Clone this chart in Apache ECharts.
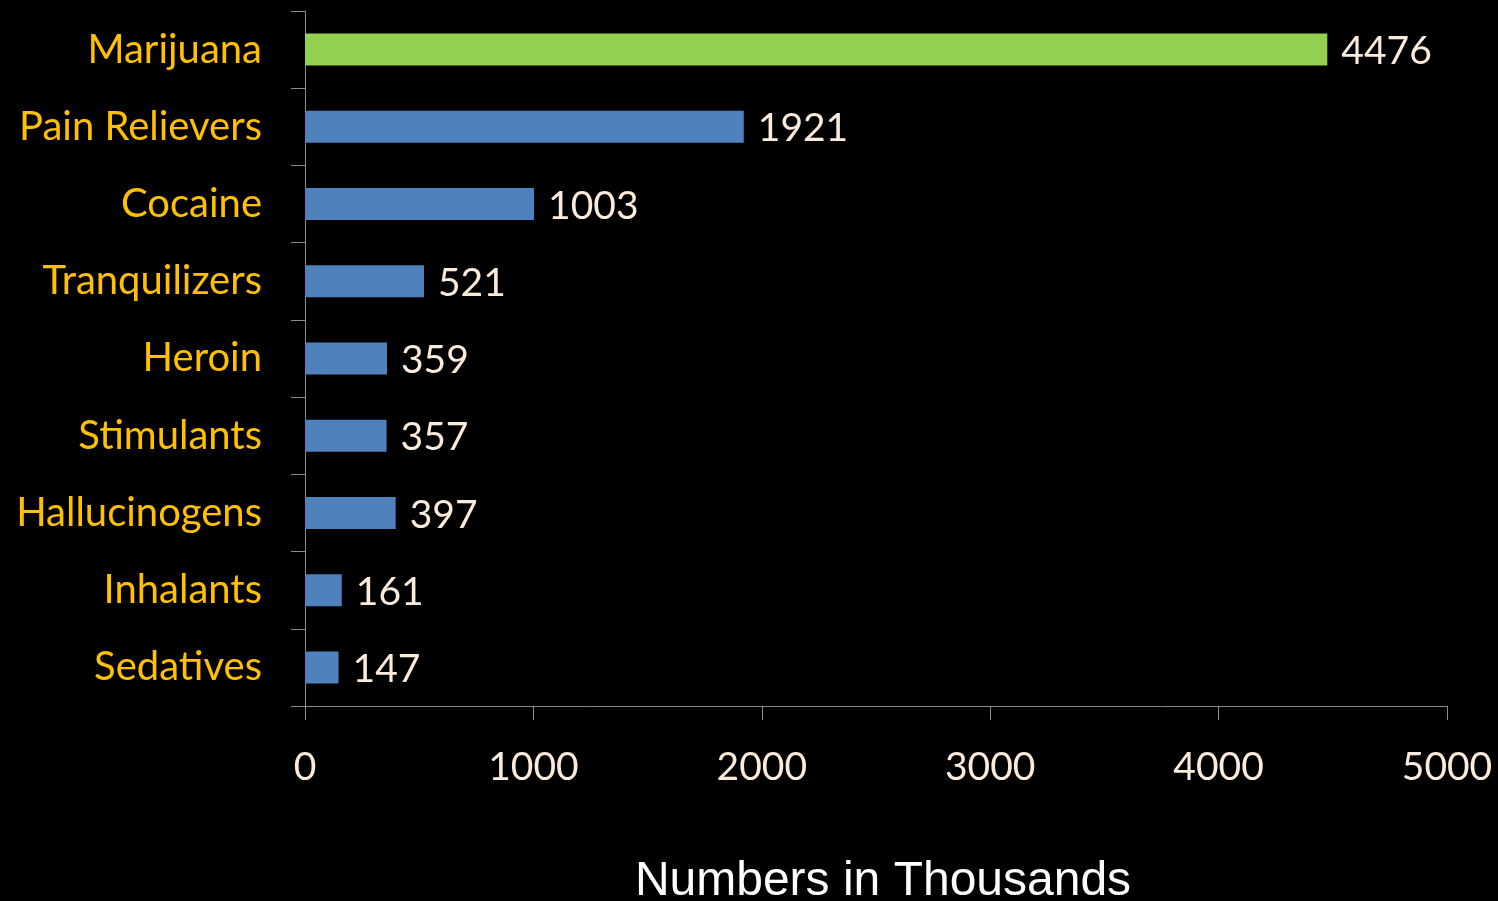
<!DOCTYPE html>
<html>
<head>
<meta charset="utf-8">
<script src="https://cdn.jsdelivr.net/npm/echarts@6/dist/echarts.min.js"></script>
<style>
  html, body { margin: 0; padding: 0; background: #000; }
  #chart { width: 1498px; height: 901px; }
</style>
</head>
<body>
<div id="chart"></div>
<script>
// Drug categories, listed top to bottom
const categories = ['Marijuana', 'Pain Relievers', 'Cocaine', 'Tranquilizers', 'Heroin',
  'Stimulants', 'Hallucinogens', 'Inhalants', 'Sedatives'];
// Users, in thousands
const users = [4476, 1921, 1003, 521, 359, 357, 397, 161, 147];
const xTicks = { min: 0, max: 5000, interval: 1000 };

const labelFont = 'Lato, "Open Sans", sans-serif';

const chart = echarts.init(document.getElementById('chart'));
chart.setOption({
  backgroundColor: '#000000',
  animation: false,
  grid: { left: 305, right: 51, top: 11, bottom: 195, containLabel: false, outerBoundsMode: 'none' },
  xAxis: {
    type: 'value',
    min: xTicks.min, max: xTicks.max, interval: xTicks.interval,
    splitLine: { show: false },
    axisLine: { show: true, lineStyle: { color: '#8a8a8a', width: 1 } },
    axisTick: { show: true, length: 14, lineStyle: { color: '#8a8a8a' } },
    axisLabel: { color: '#FBEBDB', fontFamily: labelFont, fontSize: 39, margin: 42,
      formatter: v => String(v) },
    name: 'Numbers in Thousands',
    nameLocation: 'middle',
    nameGap: 152,
    nameTextStyle: { color: '#FFFFFF', fontFamily: '"Liberation Sans", Arial, sans-serif', fontSize: 48,
      padding: [0, 0, 0, 14] }
  },
  yAxis: {
    type: 'category',
    data: categories,
    inverse: true,
    axisLine: { show: true, lineStyle: { color: '#8a8a8a', width: 1 } },
    axisTick: { show: true, length: 14, alignWithLabel: false, lineStyle: { color: '#8a8a8a' } },
    axisLabel: { color: '#FFC000', fontFamily: labelFont, fontSize: 40, margin: 43 }
  },
  series: [{
    type: 'bar',
    data: users.map((v, i) => ({
      value: v,
      itemStyle: { color: i === 0 ? '#92D050' : '#4F81BD' }
    })),
    barWidth: 32,
    label: {
      show: true,
      position: 'right',
      distance: 14,
      offset: [0, 2],
      color: '#FBEBDB',
      fontFamily: labelFont,
      fontSize: 39
    }
  }]
});
</script>
</body>
</html>
